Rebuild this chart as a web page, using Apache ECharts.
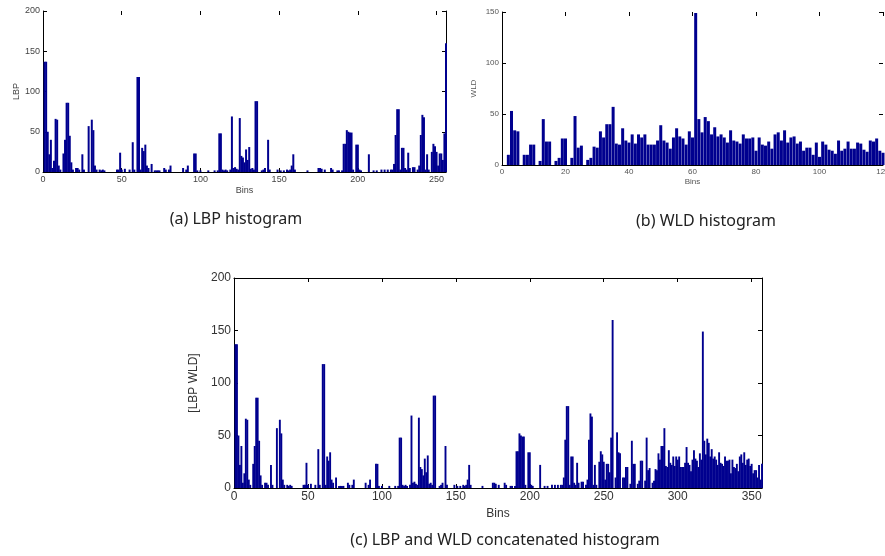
<!DOCTYPE html>
<html>
<head>
<meta charset="utf-8">
<script src="https://cdn.jsdelivr.net/npm/echarts@6/dist/echarts.min.js"></script>
<style>
  html, body { margin: 0; padding: 0; background: #fff; }
  #chart { width: 885px; height: 556px; }
</style>
</head>
<body>
<div id="chart"></div>
<script>
// LBP histogram, bins 1..256
const lbpCounts = [
  137, 137, 50, 22, 40, 5, 14, 66, 65, 8, 3, 0, 23, 40, 86, 86,
  45, 12, 3, 0, 5, 5, 3, 0, 22, 3, 0, 0, 57, 0, 65, 52,
  8, 3, 0, 3, 2, 3, 2, 0, 0, 0, 0, 0, 0, 0, 3, 3,
  24, 3, 0, 4, 0, 0, 3, 0, 37, 3, 0, 118, 118, 3, 30, 26,
  34, 8, 5, 0, 10, 0, 2, 2, 2, 2, 0, 0, 5, 3, 0, 3,
  8, 0, 0, 0, 0, 0, 0, 0, 5, 0, 3, 8, 0, 0, 0, 23,
  23, 2, 0, 2, 0, 0, 0, 0, 2, 0, 0, 0, 2, 0, 2, 48,
  48, 3, 2, 3, 2, 0, 3, 69, 5, 6, 4, 3, 67, 20, 18, 12,
  28, 15, 31, 4, 5, 3, 88, 88, 0, 0, 2, 3, 5, 0, 40, 3,
  0, 0, 0, 0, 3, 0, 2, 0, 2, 0, 3, 2, 3, 8, 22, 3,
  0, 0, 0, 0, 0, 0, 0, 2, 0, 0, 0, 0, 0, 0, 5, 5,
  4, 0, 3, 0, 0, 0, 5, 3, 0, 0, 2, 2, 0, 2, 35, 35,
  52, 50, 49, 49, 3, 0, 34, 34, 3, 2, 0, 0, 0, 0, 22, 0,
  0, 2, 0, 2, 0, 0, 3, 0, 3, 0, 3, 0, 3, 3, 10, 46,
  78, 78, 3, 30, 30, 5, 3, 24, 5, 0, 6, 6, 0, 3, 8, 46,
  71, 68, 3, 22, 3, 0, 25, 35, 32, 25, 8, 23, 23, 15, 48, 160
];

// WLD histogram, bins 1..120
const wldCounts = [
  0, 10, 53, 34, 33, 0, 10, 10, 20, 20,
  0, 4, 45, 23, 23, 0, 4, 7, 26, 26,
  0, 7, 48, 17, 19, 0, 5, 7, 18, 17,
  33, 27, 40, 40, 57, 21, 20, 36, 24, 22,
  30, 21, 30, 27, 30, 20, 20, 20, 24, 39,
  24, 22, 16, 27, 36, 28, 26, 20, 33, 27,
  149, 45, 32, 47, 43, 30, 37, 28, 30, 27,
  22, 34, 24, 23, 21, 30, 26, 26, 27, 14,
  27, 20, 19, 23, 16, 30, 32, 24, 34, 22,
  27, 28, 21, 23, 14, 17, 17, 10, 22, 8,
  23, 20, 15, 14, 11, 24, 14, 16, 23, 16,
  16, 22, 21, 15, 13, 24, 23, 26, 14, 12
];

const captions = ['(a) LBP histogram', '(b) WLD histogram', '(c) LBP and WLD concatenated histogram'];

const barColor = '#00008f';
const tickFont = 'Liberation Sans';

const lbpData = lbpCounts.map((v, i) => [i + 1, v]);
const wldData = wldCounts.map((v, i) => [i + 1, v]);
// (c) is the two histograms put end to end, shown up to bin 357
const concatData = lbpCounts.concat(wldCounts).map((v, i) => [i + 1, v]).filter(d => d[0] <= 357);

function xAxisPair (grid, max, interval, fontSize, labelColor, nameGap, topLine, showMax) {
  return [
    {
      gridIndex: grid, type: 'value', position: 'bottom', min: 0, max: max, interval: interval,
      axisLine: { show: true, onZero: false, lineStyle: { color: '#000', width: 1 } },
      axisTick: { show: true, inside: true, length: 4, lineStyle: { color: '#000' } },
      axisLabel: { fontSize: fontSize, color: labelColor, fontFamily: tickFont, margin: 3, showMaxLabel: showMax },
      splitLine: { show: false },
      name: 'Bins', nameLocation: 'middle', nameGap: nameGap,
      nameTextStyle: { fontSize: fontSize, color: labelColor, fontFamily: tickFont }
    },
    {
      gridIndex: grid, type: 'value', position: 'top', min: 0, max: max, interval: interval,
      axisLine: { show: topLine, onZero: false, lineStyle: { color: '#000', width: 1 } },
      axisTick: { show: true, inside: true, length: 4, lineStyle: { color: '#000' } },
      axisLabel: { show: false },
      splitLine: { show: false }
    }
  ];
}

function yAxisPair (grid, max, name, fontSize, labelColor, nameGap, rightLine) {
  return [
    {
      gridIndex: grid, type: 'value', position: 'left', min: 0, max: max, interval: 50,
      axisLine: { show: true, onZero: false, lineStyle: { color: '#000', width: 1 } },
      axisTick: { show: true, inside: true, length: 4, lineStyle: { color: '#000' } },
      axisLabel: { fontSize: fontSize, color: labelColor, fontFamily: tickFont, margin: 3 },
      splitLine: { show: false },
      name: name, nameLocation: 'middle', nameGap: nameGap, nameRotate: 90,
      nameTextStyle: { fontSize: fontSize, color: labelColor, fontFamily: tickFont }
    },
    {
      gridIndex: grid, type: 'value', position: 'right', min: 0, max: max, interval: 50,
      axisLine: { show: rightLine, onZero: false, lineStyle: { color: '#000', width: 1 } },
      axisTick: { show: true, inside: true, length: 4, lineStyle: { color: '#000' } },
      axisLabel: { show: false },
      splitLine: { show: false }
    }
  ];
}

function caption (text, x, y) {
  return {
    type: 'text', x: x, y: y,
    style: {
      text: text, fill: '#222', font: '16px "Noto Sans"',
      textAlign: 'center', textVerticalAlign: 'middle', align: 'center', verticalAlign: 'middle'
    }
  };
}

const chart = echarts.init(document.getElementById('chart'), null, { renderer: 'canvas' });

const option = {
  animation: false,
  backgroundColor: '#fff',
  grid: [
    { left: 43, top: 11, width: 403, height: 161, outerBoundsMode: 'none' },
    { left: 502, top: 12, width: 381, height: 153, outerBoundsMode: 'none' },
    { left: 234, top: 278, width: 528, height: 210, outerBoundsMode: 'none' }
  ],
  xAxis: [].concat(
    xAxisPair(0, 256, 50, 9, '#444', 14, false, false),
    xAxisPair(1, 120, 20, 8, '#555', 13, false, true),
    xAxisPair(2, 357, 50, 12, '#333', 20, true, false)
  ),
  yAxis: [].concat(
    yAxisPair(0, 200, 'LBP', 9, '#444', 22, true),
    yAxisPair(1, 150, 'WLD', 8, '#555', 24, false),
    yAxisPair(2, 200, '[LBP WLD]', 12, '#333', 25, true)
  ),
  series: [
    {
      type: 'bar', xAxisIndex: 0, yAxisIndex: 0, data: lbpData,
      barWidth: 2, itemStyle: { color: barColor }, silent: true
    },
    {
      type: 'bar', xAxisIndex: 2, yAxisIndex: 2, data: wldData,
      barWidth: 3, itemStyle: { color: barColor }, silent: true
    },
    {
      type: 'bar', xAxisIndex: 4, yAxisIndex: 4, data: concatData,
      barWidth: 1.9, itemStyle: { color: barColor }, silent: true
    }
  ],
  graphic: [
    caption(captions[0], 236, 219),
    caption(captions[1], 706, 221),
    caption(captions[2], 505, 540)
  ]
};

chart.setOption(option);
</script>
</body>
</html>
